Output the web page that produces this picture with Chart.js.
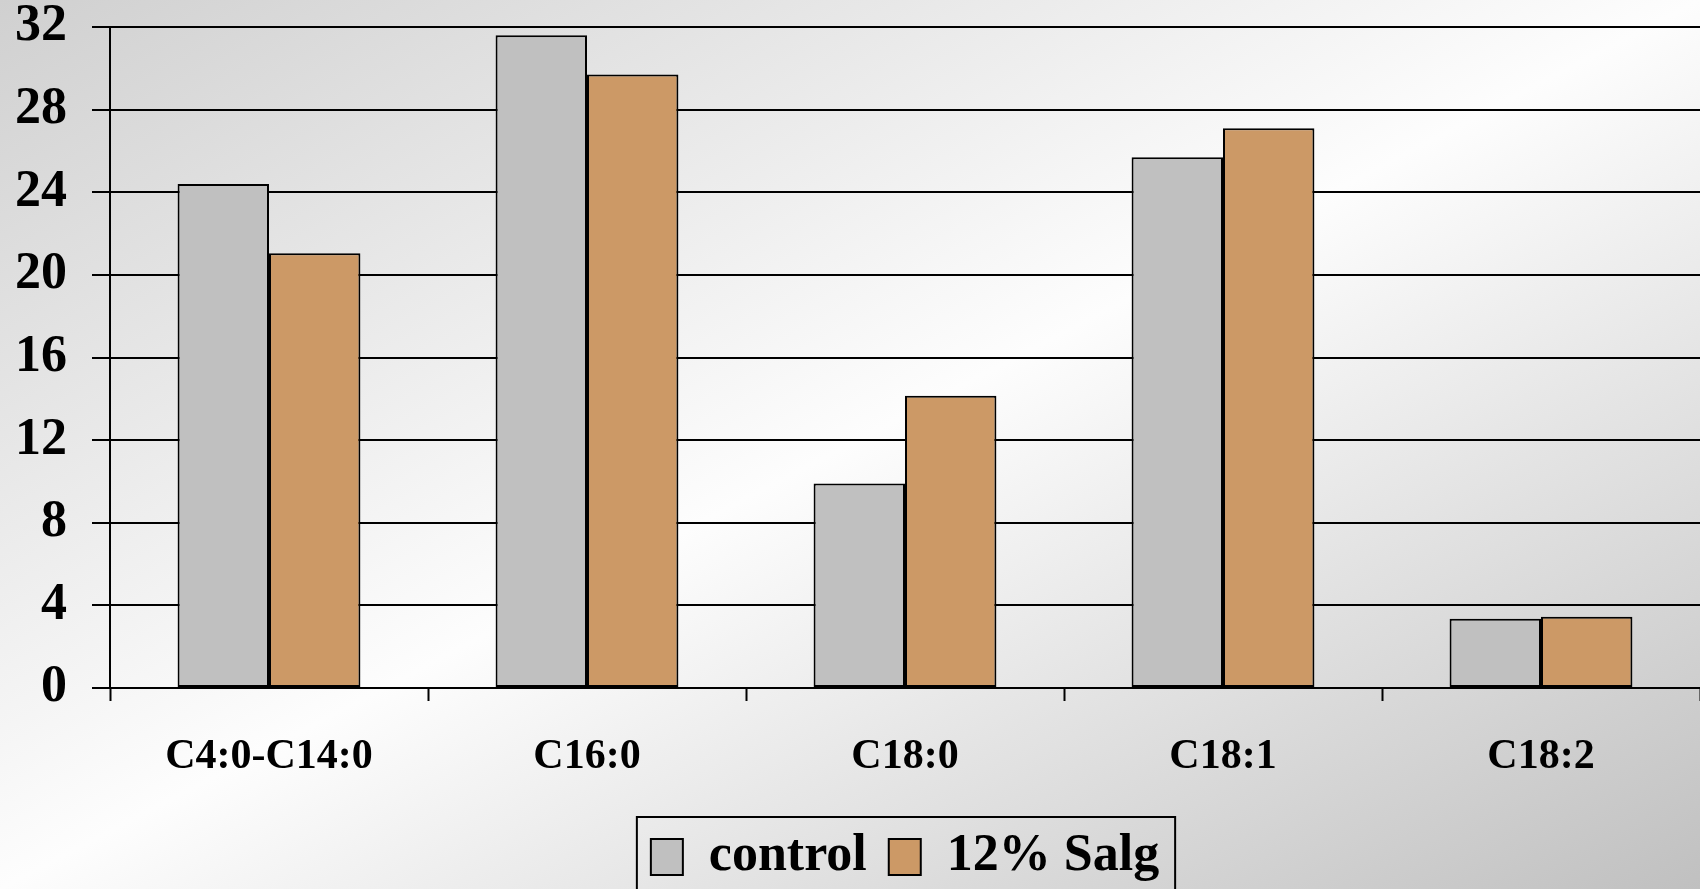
<!DOCTYPE html>
<html>
<head>
<meta charset="utf-8">
<script src="https://cdn.jsdelivr.net/npm/chart.js@4"></script>
<style>
  html, body { margin: 0; padding: 0; }
  body {
    width: 1700px; height: 889px; overflow: hidden;
    background: linear-gradient(to bottom right, #d0d0d0 0%, #fdfdfd 50%, #c0c0c0 100%);
  }
  #wrap { width: 1700px; height: 889px; position: relative; }
</style>
</head>
<body>
<div id="wrap"><canvas id="fatChart"></canvas></div>
<script>
const categories = ['C4:0-C14:0', 'C16:0', 'C18:0', 'C18:1', 'C18:2'];
const controlValues = [24.4, 31.6, 9.9, 25.7, 3.35];
const salgValues = [21.05, 29.7, 14.15, 27.1, 3.45];
const seriesNames = ['control', '12% Salg'];
const yTicks = [0, 4, 8, 12, 16, 20, 24, 28, 32];

const FONT = '"Liberation Serif", "Times New Roman", serif';

// box around the legend, like the original slide
const legendBox = {
    id: 'legendBox',
    afterDraw(chart) {
        const boxes = chart.legend.legendHitBoxes;
        if (!boxes || !boxes.length) return;
        let l = Infinity, r = -Infinity, t = Infinity;
        boxes.forEach(b => {
            l = Math.min(l, b.left);
            r = Math.max(r, b.left + b.width);
            t = Math.min(t, b.top);
        });
        const ctx = chart.ctx;
        ctx.save();
        ctx.strokeStyle = '#000';
        ctx.lineWidth = 2;
        ctx.strokeRect(l - 14, t - 14, (r - l) + 30, 200);
        ctx.restore();
    }
};

const FC = document.getElementById('fatChart').getContext('2d');
new Chart(FC, {
    type: 'bar',
    data: {
        labels: categories,
        datasets: [{
            label: seriesNames[0],
            data: controlValues,
            backgroundColor: '#C0C0C0',
            borderColor: '#000',
            borderWidth: 2,
            borderSkipped: false,
        }, {
            label: seriesNames[1],
            data: salgValues,
            backgroundColor: '#CC9966',
            borderColor: '#000',
            borderWidth: 2,
            borderSkipped: false,
        }]
    },
    options: {
        responsive: true,
        maintainAspectRatio: false,
        animation: false,
        categoryPercentage: 0.575,
        barPercentage: 1.0,
        layout: { padding: { top: 27, right: 0, left: 0, bottom: -4 } },
        scales: {
            x: {
                offset: true,
                afterFit: axis => { axis.height = 121; },
                border: { display: true, color: '#000', width: 2 },
                grid: {
                    offset: true,
                    drawOnChartArea: false,
                    drawTicks: true,
                    tickLength: 13,
                    tickWidth: 2,
                    tickColor: '#000',
                },
                ticks: {
                    color: '#000',
                    padding: 31,
                    font: { family: FONT, size: 42, weight: 'bold' },
                }
            },
            y: {
                min: 0,
                max: 32,
                afterBuildTicks: axis => { axis.ticks = yTicks.map(v => ({ value: v })); },
                afterFit: axis => {
                    axis.width = 110;
                    axis.paddingTop = 0;
                    axis.paddingBottom = 0;
                },
                border: { display: true, color: '#000', width: 2 },
                grid: {
                    color: '#000',
                    lineWidth: 2,
                    tickLength: 18,
                },
                ticks: {
                    color: '#000',
                    padding: 25,
                    font: { family: FONT, size: 52, weight: 'bold' },
                }
            }
        },
        plugins: {
            legend: {
                display: true,
                position: 'bottom',
                fullSize: false,
                labels: {
                    boxWidth: 32,
                    boxHeight: 36,
                    padding: 22,
                    color: '#000',
                    font: { family: FONT, size: 52, weight: 'bold' },
                }
            },
            tooltip: { enabled: false }
        }
    },
    plugins: [legendBox]
});
</script>
</body>
</html>
